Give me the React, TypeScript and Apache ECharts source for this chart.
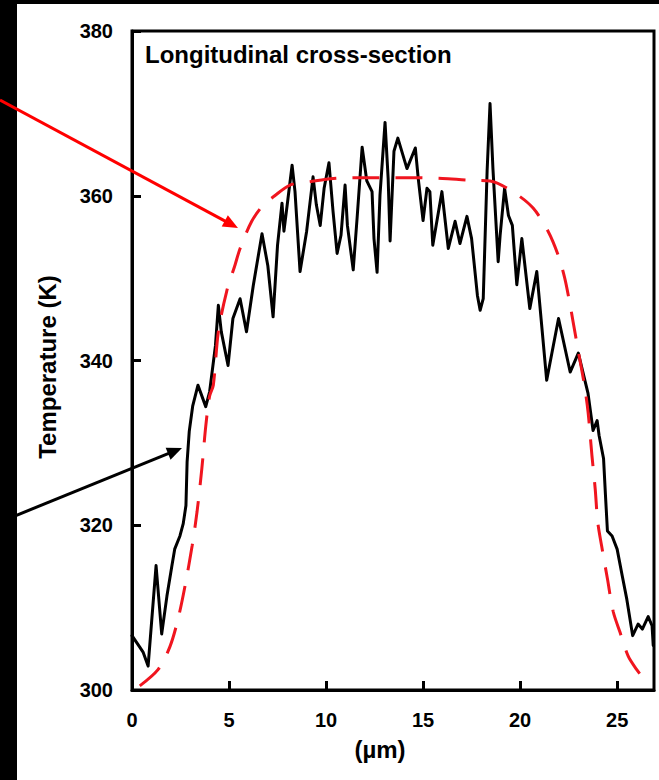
import { useEffect, useRef } from "react";
import * as echarts from "echarts";

// Measured temperature profile along the longitudinal cross-section
const positionUm = [
  0.0, 0.4, 0.57, 0.83, 1.24, 1.53, 1.8, 2.05, 2.2, 2.47, 2.64, 2.78, 2.84, 2.95, 3.13, 3.4, 3.8, 4.0,
  4.3, 4.45, 4.6, 4.95, 5.2, 5.57, 5.9, 6.25, 6.7, 7.0, 7.27, 7.5, 7.73, 7.83, 8.04, 8.25, 8.4, 8.66,
  9.0, 9.33, 9.5, 9.7, 9.9, 10.15, 10.36, 10.57, 10.77, 10.98, 11.1, 11.4, 11.6, 11.86, 12.1, 12.37,
  12.47, 12.63, 12.78, 13.04, 13.2, 13.3, 13.5, 13.7, 14.17, 14.6, 14.75, 15.0, 15.2, 15.35, 15.5,
  15.97, 16.3, 16.65, 16.9, 17.26, 17.5, 17.8, 17.94, 18.1, 18.3, 18.45, 18.6, 18.87, 18.97, 19.2,
  19.4, 19.6, 19.83, 20.09, 20.5, 20.86, 21.37, 21.98, 22.58, 23.0, 23.5, 23.76, 23.97, 24.07, 24.3,
  24.4, 24.5, 24.74, 25.0, 25.26, 25.5, 25.8, 26.08, 26.3, 26.6, 26.8, 26.86,
];
const measuredK = [
  306.6, 305.2, 304.6, 302.9, 315.1, 306.8, 311.4, 315.0, 317.1, 318.7, 320.2, 322.4, 327.7, 331.4,
  334.5, 337.0, 334.4, 336.2, 341.8, 346.7, 343.5, 339.4, 345.1, 347.5, 343.5, 349.1, 355.4, 351.5,
  345.3, 354.0, 359.1, 355.7, 359.7, 363.7, 360.5, 350.8, 355.7, 362.3, 358.9, 356.4, 360.9, 364.0,
  358.1, 353.0, 355.2, 361.3, 356.4, 351.0, 357.3, 365.9, 361.8, 360.5, 354.8, 350.7, 360.1, 368.9,
  362.1, 354.5, 365.4, 367.0, 363.3, 365.8, 362.1, 357.0, 360.9, 360.5, 354.0, 360.5, 353.6, 356.9,
  354.2, 357.5, 354.8, 347.9, 346.1, 347.5, 363.0, 371.2, 363.3, 352.0, 355.2, 360.9, 357.6, 356.4,
  349.2, 354.8, 346.3, 350.8, 337.6, 345.1, 338.6, 340.9, 336.0, 331.5, 332.7, 330.9, 328.1, 323.6,
  319.3, 318.7, 317.1, 313.9, 311.0, 306.6, 308.0, 307.4, 308.9, 307.8, 305.4,
];

// Modelled temperature profile (dashed)
const modelPositionUm = [
  0.4, 1.35, 1.96, 2.37, 2.73, 3.1, 3.35, 3.6, 3.8, 4.0, 4.19, 4.45, 4.88, 5.31, 5.57, 6.17, 6.77,
  7.3, 8.14, 9.18, 10.38, 12.0, 14.0, 16.0, 17.27, 18.45, 19.74, 20.67, 21.44, 21.96, 22.3, 22.58,
  22.73, 23.0, 23.3, 23.5, 23.7, 23.87, 24.0, 24.2, 24.5, 24.8, 25.15, 25.57, 26.0, 26.45,
];
const modelK = [
  300.5, 302.5, 305.3, 308.6, 312.6, 317.5, 321.6, 326.9, 332.0, 335.7, 337.0, 343.5, 348.4, 351.6,
  353.6, 356.9, 358.9, 359.9, 361.3, 361.7, 362.1, 362.2, 362.2, 362.1, 361.9, 361.8, 360.3, 358.5,
  355.7, 352.8, 350.0, 346.7, 344.7, 341.1, 337.2, 333.8, 328.5, 324.4, 320.4, 317.5, 313.5, 309.5,
  307.0, 304.1, 302.5, 301.1,
];

const xTickStep = 5;
const yTicks = [300, 320, 340, 360, 380];

const FONT = "Arial, 'Liberation Sans', sans-serif";

function arrow(x1: number, y1: number, x2: number, y2: number, color: string) {
  const dx = x2 - x1;
  const dy = y2 - y1;
  const len = Math.hypot(dx, dy);
  const ux = dx / len;
  const uy = dy / len;
  const nx = -uy;
  const ny = ux;
  const headLen = 15;
  const headHalf = 6.5;
  const bx = x2 - ux * headLen;
  const by = y2 - uy * headLen;
  return [
    {
      type: "line",
      shape: { x1, y1, x2: bx + ux * 2, y2: by + uy * 2 },
      style: { stroke: color, lineWidth: 3 },
      z: 10,
    },
    {
      type: "polygon",
      shape: {
        points: [
          [x2, y2],
          [bx + nx * headHalf, by + ny * headHalf],
          [bx - nx * headHalf, by - ny * headHalf],
        ],
      },
      style: { fill: color },
      z: 10,
    },
  ];
}

export default function App() {
  const ref = useRef<HTMLDivElement>(null);

  useEffect(() => {
    document.body.style.margin = "0";
    if (!ref.current) return;
    const chart = echarts.init(ref.current, null, { renderer: "svg" });

    const measured = positionUm.map((x, i) => [x, measuredK[i]]);
    const model = modelPositionUm.map((x, i) => [x, modelK[i]]);

    chart.setOption({
      animation: false,
      backgroundColor: "#ffffff",
      grid: {
        left: 132,
        right: 5,
        top: 31,
        bottom: 90,
        show: true,
        borderColor: "#000",
        borderWidth: 3,
        backgroundColor: "transparent",
      },
      xAxis: {
        type: "value",
        min: 0,
        max: 26.9,
        interval: xTickStep,
        axisLine: { show: true, lineStyle: { color: "#000", width: 3 } },
        axisTick: { show: true, inside: true, length: 9, lineStyle: { color: "#000", width: 3 } },
        splitLine: { show: false },
        axisLabel: {
          margin: 20,
          color: "#000",
          fontFamily: FONT,
          fontWeight: "bold",
          fontSize: 20,
          showMaxLabel: false,
          formatter: (v: number) => (v % xTickStep === 0 ? String(v) : ""),
        },
      },
      yAxis: {
        type: "value",
        min: yTicks[0],
        max: yTicks[yTicks.length - 1],
        interval: yTicks[1] - yTicks[0],
        axisLine: { show: true, lineStyle: { color: "#000", width: 3 } },
        axisTick: { show: true, inside: true, length: 9, lineStyle: { color: "#000", width: 3 } },
        splitLine: { show: false },
        axisLabel: {
          margin: 19,
          color: "#000",
          fontFamily: FONT,
          fontWeight: "bold",
          fontSize: 20,
        },
      },
      series: [
        {
          name: "Measured",
          type: "line",
          data: measured,
          showSymbol: false,
          symbol: "none",
          lineStyle: { color: "#000", width: 3, join: "round", cap: "round" },
          z: 2,
        },
        {
          name: "Model",
          type: "line",
          data: model,
          showSymbol: false,
          symbol: "none",
          smooth: 0.3,
          lineStyle: { color: "#f0151f", width: 3, type: [27, 16] },
          z: 3,
        },
      ],
      graphic: [
        { type: "rect", shape: { x: 0, y: 0, width: 17, height: 780 }, style: { fill: "#000" }, z: 1 },
        { type: "rect", shape: { x: 0, y: 0, width: 659, height: 4 }, style: { fill: "#000" }, z: 1 },
        {
          type: "text",
          x: 145,
          y: 54,
          style: {
            text: "Longitudinal cross-section",
            fill: "#000",
            font: `bold 24px ${FONT}`,
            textAlign: "left",
            textVerticalAlign: "middle",
          },
          z: 5,
        },
        {
          type: "text",
          x: 47,
          y: 367,
          rotation: Math.PI / 2,
          style: {
            text: "Temperature (K)",
            fill: "#000",
            font: `bold 24px ${FONT}`,
            textAlign: "center",
            textVerticalAlign: "middle",
          },
          z: 5,
        },
        {
          type: "text",
          x: 380,
          y: 749,
          style: {
            text: "(µm)",
            fill: "#000",
            font: `bold 24px ${FONT}`,
            textAlign: "center",
            textVerticalAlign: "middle",
          },
          z: 5,
        },
        ...arrow(0, 100, 238, 228, "#ff0000"),
        ...arrow(0, 522, 182, 448, "#000000"),
      ],
    });

    return () => chart.dispose();
  }, []);

  return (
    <div
      ref={ref}
      style={{ position: "absolute", left: 0, top: 0, width: 659, height: 780 }}
    />
  );
}
